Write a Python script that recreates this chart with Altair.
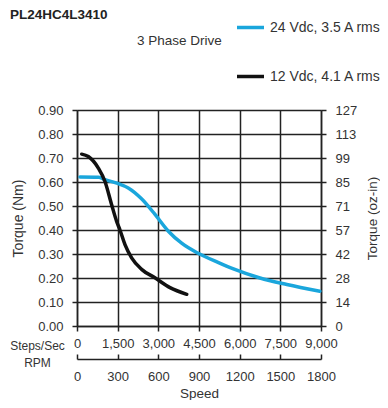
import altair as alt
import pandas as pd

# ---- data ----
chart_title = "PL24HC4L3410"
series_names = ["24 Vdc, 3.5 A rms", "12 Vdc, 4.1 A rms"]
series_colors = ["#1aa6dc", "#111111"]

steps_24 = [110, 800, 1030, 1470, 1890, 2380, 2870, 3370, 3860, 4470, 5200, 5770, 6750, 7740, 8960]
torque_24 = [0.621, 0.62, 0.61, 0.595, 0.575, 0.53, 0.466, 0.395, 0.345, 0.303, 0.265, 0.238, 0.20, 0.173, 0.145]

steps_12 = [173, 417, 787, 1032, 1278, 1462, 1585, 1770, 2015, 2383, 2874, 3430, 4050]
torque_12 = [0.716, 0.706, 0.658, 0.602, 0.505, 0.436, 0.40, 0.339, 0.284, 0.236, 0.201, 0.16, 0.132]

steps_ticks = [0, 1500, 3000, 4500, 6000, 7500, 9000]
steps_labels = ["0", "1,500", "3,000", "4,500", "6,000", "7,500", "9,000"]
rpm_labels = ["0", "300", "600", "900", "1200", "1500", "1800"]
nm_ticks = [0.0, 0.1, 0.2, 0.3, 0.4, 0.5, 0.6, 0.7, 0.8, 0.9]
nm_labels = ["0.00", "0.10", "0.20", "0.30", "0.40", "0.50", "0.60", "0.70", "0.80", "0.90"]
ozin_labels = ["0", "14", "28", "42", "57", "71", "85", "99", "113", "127"]

rows = []
for s, t in zip(steps_24, torque_24):
    rows.append({"steps": s, "torque": t, "series": series_names[0]})
for s, t in zip(steps_12, torque_12):
    rows.append({"steps": s, "torque": t, "series": series_names[1]})
df = pd.DataFrame(rows)

FONT = "Liberation Sans"
INK = "#222222"
TXT = "#333333"

x_scale = alt.Scale(domain=[0, 9000], nice=False, zero=False)
y_scale = alt.Scale(domain=[0, 0.9], nice=False)

common_axis = dict(
    labelFont=FONT, labelFontSize=13, labelColor=TXT,
    titleFont=FONT, titleColor=TXT, titleFontWeight="normal",
    domainColor=INK, domainWidth=1.5, tickColor=INK, tickWidth=1.5,
    gridColor=INK, gridWidth=1.5, gridOpacity=1,
    labelFlush=False, labelOverlap=False,
)


def arr_expr(labels, idx):
    return "[" + ",".join("'" + v + "'" for v in labels) + "][" + idx + "]"


steps_expr = arr_expr(steps_labels, "round(datum.value/1500)")
rpm_expr = arr_expr(rpm_labels, "round(datum.value/1500)")
nm_expr = arr_expr(nm_labels, "round(datum.value*10)")
oz_expr = arr_expr(ozin_labels, "round(datum.value*10)")

lines = alt.Chart(df).mark_line(strokeWidth=3.5, interpolate="monotone", strokeCap="round").encode(
    x=alt.X("steps:Q", scale=x_scale, axis=alt.Axis(
        orient="bottom", values=steps_ticks, labelExpr=steps_expr, grid=True,
        tickSize=5, labelPadding=6,
        title="Steps/Sec", titleFontSize=12, titleX=-40, titleY=19,
        titleAngle=0, titleAlign="center", titleBaseline="middle",
        **common_axis)),
    y=alt.Y("torque:Q", scale=y_scale, axis=alt.Axis(
        orient="left", values=nm_ticks, labelExpr=nm_expr, grid=True,
        tickSize=5, labelPadding=9,
        title="Torque (Nm)", titleFontSize=14, titleX=-59, titleY=108,
        titleAngle=270, titleAlign="center", titleBaseline="middle",
        **common_axis)),
    color=alt.Color("series:N", sort=series_names,
                    scale=alt.Scale(domain=series_names, range=series_colors),
                    legend=alt.Legend(
                        orient="none", legendX=60, legendY=-98,
                        title="3 Phase Drive", titleOrient="left", titleAnchor="middle",
                        titleBaseline="bottom", titlePadding=13,
                        titleFont=FONT, titleFontSize=13.5, titleFontWeight="normal", titleColor=TXT,
                        labelFont=FONT, labelFontSize=14, labelColor=TXT, labelLimit=300,
                        labelOffset=4, symbolType="stroke", symbolSize=729,
                        symbolStrokeWidth=3.5, rowPadding=26, padding=0)),
)

rpm_layer = alt.Chart(df).mark_line(strokeOpacity=0).encode(
    x=alt.X("steps:Q", scale=x_scale, axis=alt.Axis(
        orient="bottom", offset=28, values=steps_ticks, labelExpr=rpm_expr,
        grid=False, domain=False, tickSize=5, labelPadding=11,
        title="RPM", titleFontSize=12, titleX=-40, titleY=8,
        titleAngle=0, titleAlign="center", titleBaseline="middle",
        **common_axis)),
    y=alt.Y("torque:Q", scale=y_scale, axis=alt.Axis(
        orient="right", values=nm_ticks, labelExpr=oz_expr, grid=False,
        tickSize=5, labelPadding=9,
        title="Torque (oz-in)", titleFontSize=13.5, titleX=51, titleY=108,
        titleAngle=270, titleAlign="center", titleBaseline="middle",
        **common_axis)),
)

speed_layer = alt.Chart(df).mark_line(strokeOpacity=0).encode(
    x=alt.X("steps:Q", scale=x_scale, axis=alt.Axis(
        orient="bottom", offset=33, values=steps_ticks, grid=False,
        domain=True, ticks=False, labels=False,
        title="Speed", titleFontSize=13.5, titleX=122, titleY=34,
        titleAngle=0, titleAlign="center", titleBaseline="middle",
        **common_axis)),
    y=alt.Y("torque:Q", scale=y_scale, axis=None),
)

title_layer = alt.Chart(pd.DataFrame({"label": [chart_title]})).mark_text(
    align="left", baseline="alphabetic", font=FONT, fontSize=13.5,
    fontWeight="bold", color="#222222",
).encode(x=alt.value(-67), y=alt.value(-91), text="label:N")

chart = alt.layer(lines, rpm_layer, speed_layer, title_layer).resolve_axis(
    x="independent", y="independent"
).properties(
    width=244, height=216,
    autosize=alt.AutoSizeParams(type="none"),
    padding={"left": 69, "top": 102, "right": 59, "bottom": 74},
    background="white",
).configure_view(stroke=None)

chart.save("out.html", embed_options={"renderer": "svg", "actions": False})
